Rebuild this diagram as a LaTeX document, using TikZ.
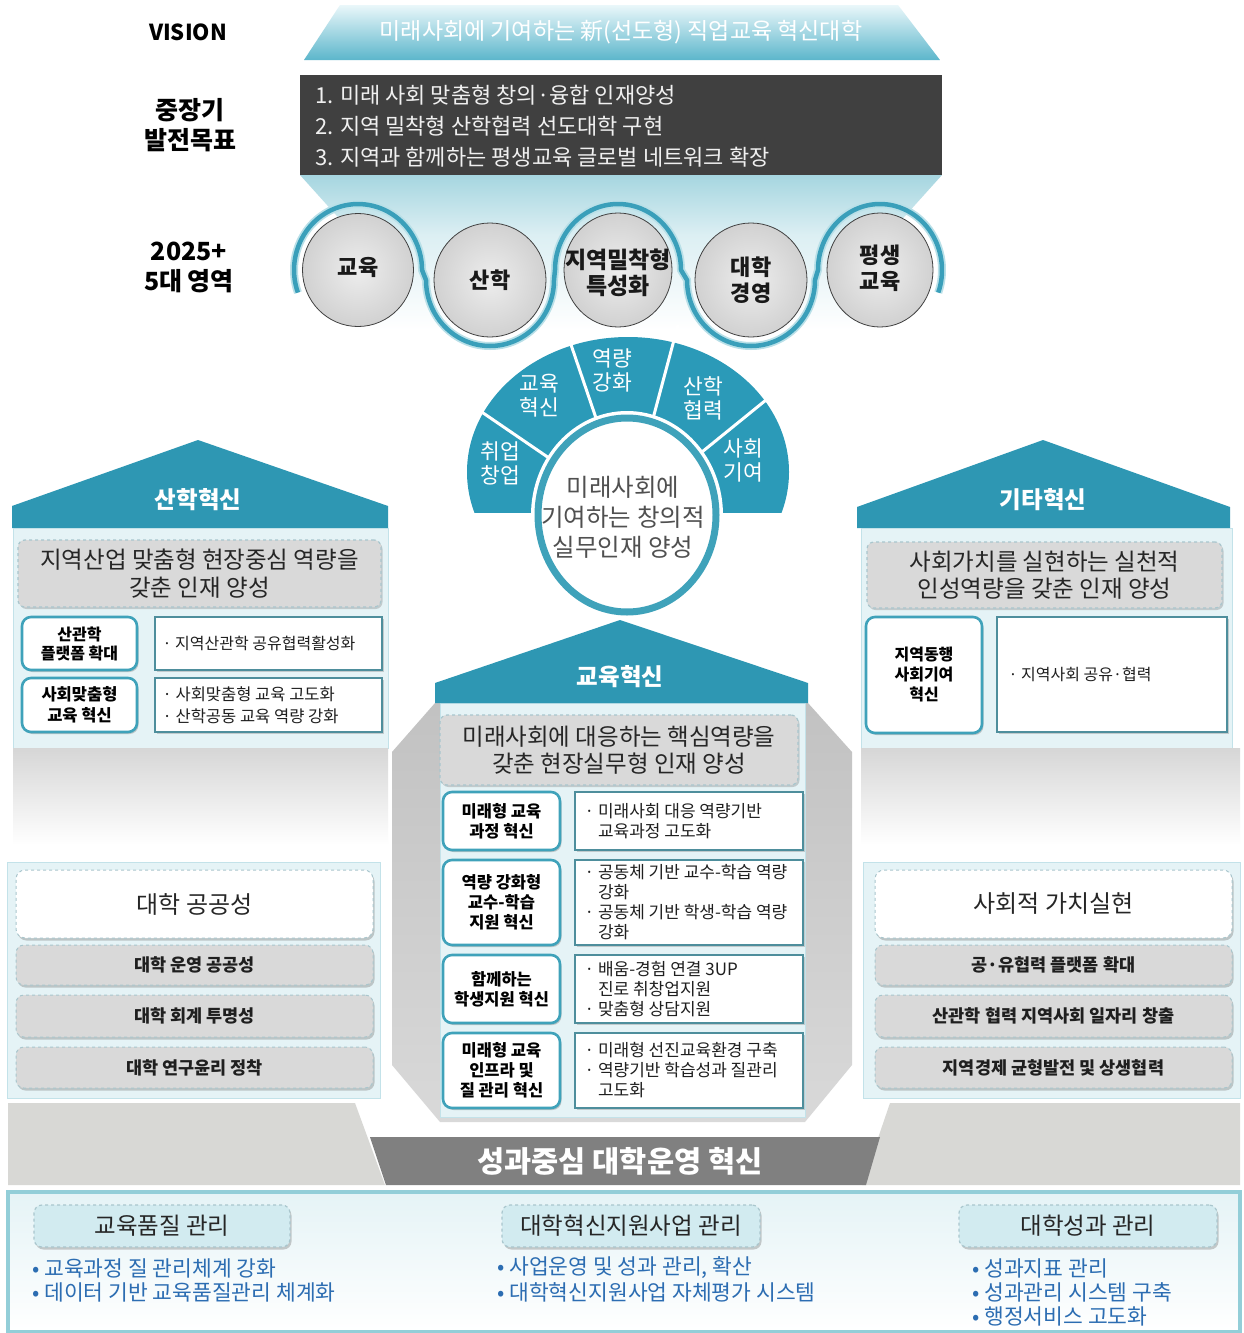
\documentclass[tikz,border=0pt]{standalone}
\usepackage{fontspec}
\setmainfont{Noto Sans CJK KR}
\usetikzlibrary{shapes.geometric,shadows}
\definecolor{tealA}{HTML}{2E97B3}
\definecolor{tealB}{HTML}{3FA2BA}
\definecolor{panelC}{HTML}{E5F3F6}
\definecolor{panelEdge}{HTML}{C3E2E9}
\definecolor{dashG}{HTML}{D9D9D9}
\definecolor{dashEdge}{HTML}{A9C6CD}
\definecolor{darkbox}{HTML}{404040}
\definecolor{bannerC}{HTML}{808080}
\definecolor{bandG}{HTML}{D8D8D5}
\definecolor{bulletB}{HTML}{2C6DB2}
\definecolor{headC}{HTML}{D2EBF0}
\definecolor{frameC}{HTML}{93CED8}
\definecolor{descEdge}{HTML}{4E8E9C}
\definecolor{txtG}{HTML}{505050}
\definecolor{funTop}{HTML}{A6D6E0}
\definecolor{funBot}{HTML}{DCEFF3}
\definecolor{visTop}{HTML}{EAF7FA}
\definecolor{visBot}{HTML}{5CB6CB}
\definecolor{waveC}{HTML}{3A9FBA}
\definecolor{waveHalo}{HTML}{B9E0E8}
\definecolor{fanC}{HTML}{2B9AB8}
\newcommand\fsz[2]{\fontsize{#1pt}{#2pt}\selectfont}
\tikzset{
  roof/.style={fill=tealA},
  rooflabel/.style={text=white, font=\fsz{23.5}{27}\bfseries},
  panel/.style={fill=panelC, draw=panelEdge, line width=0.8},
  goalbox/.style={fill=dashG, draw=dashEdge, dashed, line width=1.2, rounded corners=7,
    drop shadow={shadow xshift=1.5pt, shadow yshift=-2pt, opacity=0.35}, align=center, text=black!85, inner sep=0,
    font=\fsz{23.5}{27.5}},
  keybox/.style={fill=white, draw=tealB, line width=2.6, rounded corners=9, align=center,
    font=\fsz{16}{19}\bfseries, inner sep=0, drop shadow={shadow xshift=1.5pt, shadow yshift=-2pt, opacity=0.4}},
  descbox/.style={fill=white, draw=descEdge, line width=1.1, inner sep=0,
    drop shadow={shadow xshift=1.5pt, shadow yshift=-2pt, opacity=0.35}},
  desctext/.style={align=left, anchor=west, font=\fsz{16}{20}, text=black!88, inner sep=0},
  ellcirc/.style={ellipse, draw=black!75, line width=0.8, inner color=gray!14, outer color=gray!36, inner sep=0},
  circlabel/.style={align=center, font=\fsz{22}{26}\bfseries, text=black!90},
  fanlabel/.style={align=center, font=\fsz{21.5}{24}, text=white},
  sidelabel/.style={align=center, font=\fsz{25}{30}\bfseries},
  whitebox/.style={fill=white, draw=dashEdge, dashed, line width=1, rounded corners=9, inner sep=0,
    drop shadow={shadow xshift=1.5pt, shadow yshift=-2.5pt, opacity=0.4}, font=\fsz{24}{28}, text=black!85},
  graybox/.style={fill=dashG, draw=dashEdge, dashed, line width=1, rounded corners=8, inner sep=0,
    drop shadow={shadow xshift=1.5pt, shadow yshift=-2.5pt, opacity=0.4}, font=\fsz{17.5}{20}\bfseries, text=black!88},
  headbox/.style={fill=headC, draw=dashEdge, dashed, line width=1.2, rounded corners=8, inner sep=0,
    drop shadow={shadow xshift=1.5pt, shadow yshift=-2.5pt, opacity=0.4}, font=\fsz{23.5}{26}, text=black!85},
  bullet/.style={anchor=west, inner sep=0, font=\fsz{21.5}{24}, text=bulletB},
  goalline/.style={anchor=west, inner sep=0, font=\fsz{22}{24}, text=gray!12},
}
\begin{document}
\begin{tikzpicture}[x=1pt,y=-1pt]
\useasboundingbox (0,0) rectangle (1243,1333);
\fill[white] (0,0) rectangle (1243,1333);

% ---------- top ----------
\shade[top color=funTop, bottom color=funBot] (300,175) -- (942,175) -- (888,235) -- (354,235) -- cycle;
\shade[top color=funBot, bottom color=white] (354,235) -- (888,235) -- (888,330) -- (354,330) -- cycle;
\shade[top color=visTop, bottom color=visBot] (340,5) -- (898,5) -- (940,60) -- (304,60) -- cycle;
\node[font=\fsz{23}{26}, text=white] (vtext) at (621,32) {미래사회에 기여하는 新(선도형) 직업교육 혁신대학};
\node[fill=darkbox, minimum width=642, minimum height=100, inner sep=0] (goals) at (621,125) {};
\node[goalline] (goal1) at (315,95) {1. 미래 사회 맞춤형 창의·융합 인재양성};
\node[goalline] (goal2) at (315,126) {2. 지역 밀착형 산학협력 선도대학 구현};
\node[goalline] (goal3) at (315,157) {3. 지역과 함께하는 평생교육 글로벌 네트워크 확장};

\node[font=\fsz{22}{26}\bfseries] (vis) at (188,32) {VISION};
\node[sidelabel] (midgoal) at (190,125) {중장기\\발전목표};
\node[sidelabel] (areas) at (189,267) {2025+\\5대 영역};

% ---------- five circles ----------
\node[ellcirc, minimum width=111, minimum height=113] (e1) at (358,270) {};
\node[ellcirc, minimum width=112, minimum height=114] (e2) at (490,280) {};
\node[ellcirc, minimum width=108, minimum height=114] (e3) at (618,270) {};
\node[ellcirc, minimum width=112, minimum height=114] (e4) at (751,280) {};
\node[ellcirc, minimum width=106, minimum height=114] (e5) at (880,270) {};
\node[circlabel] (l1) at (358,267) {교육};
\node[circlabel] (l2) at (490,280) {산학};
\node[circlabel, font=\fsz{23}{26}\bfseries] (l3) at (618,273) {지역밀착형\\특성화};
\node[circlabel] (l4) at (751,280) {대학\\경영};
\node[circlabel] (l5) at (880,268) {평생\\교육};
\foreach \w/\c in {8/waveHalo, 4.5/waveC}{
\draw[line width=\w, color=\c]
  (297.9,292.6) arc[start angle=-200, end angle=0, x radius=64, y radius=66]
  -- (426,280) arc[start angle=-180, end angle=-360, x radius=64, y radius=66]
  -- (555,270) arc[start angle=-180, end angle=0, x radius=63, y radius=66]
  -- (687,280) arc[start angle=-180, end angle=-360, x radius=64, y radius=66]
  -- (818,270) arc[start angle=-180, end angle=20, x radius=62, y radius=66];
}

% ---------- fan ----------
\coordinate (F) at (628,512);
\begin{scope}
\clip (420,300) rectangle (840,512);
\fill[fanC] (628,472) ellipse [x radius=161, y radius=135];
\end{scope}
\coordinate (sep1) at (470,404);
\coordinate (sep2) at (566,330);
\coordinate (sep3) at (678,325);
\coordinate (sep4) at (766,400);
\foreach \p in {sep1,sep2,sep3,sep4}{
  \draw[white, line width=3] (F) -- (\p);
}
\node[ellipse, draw=white, line width=12, minimum width=180, minimum height=196, inner sep=0] (corehalo) at (627,515) {};
\node[ellipse, draw=tealB, line width=7, fill=white, minimum width=178, minimum height=194, inner sep=0] (core) at (627,515) {};
\node[align=center, font=\fsz{24.5}{30}, text=txtG] (coretext) at (623,517) {미래사회에\\기여하는 창의적\\실무인재 양성};
\node[fanlabel] (s1) at (500,463) {취업\\창업};
\node[fanlabel] (s2) at (539,396) {교육\\혁신};
\node[fanlabel] (s3) at (612,370) {역량\\강화};
\node[fanlabel] (s4) at (703,398) {산학\\협력};
\node[fanlabel] (s5) at (743,460) {사회\\기여};

% ---------- left house ----------
\fill[roof] (12,528) -- (12,506) -- (198,440) -- (388,506) -- (388,528) -- cycle;
\node[rooflabel] (lhead) at (198,500) {산학혁신};
\draw[panel] (13,528) rectangle (388,748);
\shade[top color=gray!32, bottom color=white] (13,748) rectangle (388,845);
\node[goalbox, minimum width=363, minimum height=67] (lgoal) at (199.5,573.5) {지역산업 맞춤형 현장중심 역량을\\갖춘 인재 양성};
\node[keybox, minimum width=115, minimum height=53] (lk1) at (79.5,643.5) {산관학\\플랫폼 확대};
\node[keybox, minimum width=115, minimum height=54, font=\fsz{16.5}{21}\bfseries] (lk2) at (79.5,705) {사회맞춤형\\교육 혁신};
\node[descbox, minimum width=227, minimum height=53] (ld1) at (268.5,643.5) {};
\node[descbox, minimum width=227, minimum height=54] (ld2) at (268.5,705) {};
\node[desctext] (ldt1) at ([xshift=8pt]ld1.west) {· 지역산관학 공유협력활성화};
\node[desctext, font=\fsz{16.5}{22}] (ldt2) at ([xshift=8pt]ld2.west) {· 사회맞춤형 교육 고도화\\· 산학공동 교육 역량 강화};

% ---------- right house ----------
\fill[roof] (857,528) -- (857,507) -- (1043,440) -- (1230,507) -- (1230,528) -- cycle;
\node[rooflabel] (rhead) at (1043,500) {기타혁신};
\draw[panel] (861,528) rectangle (1232,748);
\shade[top color=gray!32, bottom color=white] (861,748) rectangle (1240,845);
\node[goalbox, minimum width=355, minimum height=66] (rgoal) at (1044.5,575) {사회가치를 실현하는 실천적\\인성역량을 갖춘 인재 양성};
\node[keybox, minimum width=116, minimum height=116, font=\fsz{16}{20}\bfseries] (rk1) at (924,675) {지역동행\\사회기여\\혁신};
\node[descbox, minimum width=230, minimum height=115] (rd1) at (1112,674.5) {};
\node[desctext] (rdt1) at ([xshift=12pt]rd1.west) {· 지역사회 공유·협력};

% ---------- center house ----------
\shade[top color=gray!48, bottom color=gray!30] (435,703) -- (808,703) -- (852,752) -- (852,1065) -- (805,1122) -- (440,1122) -- (392,1065) -- (392,752) -- cycle;
\draw[panel] (440,703) rectangle (805,1117);
\fill[roof] (435,703) -- (435,683) -- (620,620) -- (808,683) -- (808,703) -- cycle;
\node[rooflabel] (chead) at (620,677) {교육혁신};
\node[goalbox, minimum width=358, minimum height=70] (cgoal) at (619,750) {미래사회에 대응하는 핵심역량을\\갖춘 현장실무형 인재 양성};
\tikzset{ckey/.style={keybox, minimum width=117, font=\fsz{16.5}{20}\bfseries}}
\node[ckey, minimum height=58] (ck1) at (501.5,821) {미래형 교육\\과정 혁신};
\node[ckey, minimum height=85] (ck2) at (501.5,902.5) {역량 강화형\\교수-학습\\지원 혁신};
\node[ckey, minimum height=68] (ck3) at (501.5,989) {함께하는\\학생지원 혁신};
\node[ckey, minimum height=75] (ck4) at (501.5,1070.5) {미래형 교육\\인프라 및\\질 관리 혁신};
\node[descbox, minimum width=228, minimum height=58] (cd1) at (689,821) {};
\node[descbox, minimum width=228, minimum height=85] (cd2) at (689,902.5) {};
\node[descbox, minimum width=228, minimum height=68] (cd3) at (689,989) {};
\node[descbox, minimum width=228, minimum height=75] (cd4) at (689,1070.5) {};
\tikzset{cdesc/.style={desctext, font=\fsz{17}{20}}}
\node[cdesc] (cdt1) at ([xshift=10pt]cd1.west) {· 미래사회 대응 역량기반\\\phantom{· }교육과정 고도화};
\node[cdesc] (cdt2) at ([xshift=10pt]cd2.west) {· 공동체 기반 교수-학습 역량\\\phantom{· }강화\\· 공동체 기반 학생-학습 역량\\\phantom{· }강화};
\node[cdesc] (cdt3) at ([xshift=10pt]cd3.west) {· 배움-경험 연결 3UP\\\phantom{· }진로 취창업지원\\· 맞춤형 상담지원};
\node[cdesc] (cdt4) at ([xshift=10pt]cd4.west) {· 미래형 선진교육환경 구축\\· 역량기반 학습성과 질관리\\\phantom{· }고도화};

% ---------- lower left / right ----------
\draw[panel] (7,862) rectangle (380,1098);
\node[whitebox, minimum width=357, minimum height=68] (lw) at (194.5,904) {대학 공공성};
\node[graybox, minimum width=357, minimum height=40] (lg1) at (194.5,965) {대학 운영 공공성};
\node[graybox, minimum width=357, minimum height=42] (lg2) at (194.5,1016) {대학 회계 투명성};
\node[graybox, minimum width=357, minimum height=41] (lg3) at (194.5,1067.5) {대학 연구윤리 정착};
\draw[panel] (863,862) rectangle (1240,1098);
\node[whitebox, minimum width=357, minimum height=68] (rw) at (1053.5,904) {사회적 가치실현};
\node[graybox, minimum width=357, minimum height=40] (rg1) at (1053.5,965) {공·유협력 플랫폼 확대};
\node[graybox, minimum width=357, minimum height=42] (rg2) at (1053.5,1016) {산관학 협력 지역사회 일자리 창출};
\node[graybox, minimum width=357, minimum height=41] (rg3) at (1053.5,1067.5) {지역경제 균형발전 및 상생협력};

% ---------- bottom band ----------
\fill[bandG] (8,1103) -- (355,1103) -- (385,1185) -- (8,1185) -- cycle;
\fill[bandG] (890,1103) -- (1240,1103) -- (1240,1185) -- (862,1185) -- cycle;
\fill[bannerC] (370,1137) -- (880,1137) -- (866,1185) -- (386,1185) -- cycle;
\node[font=\fsz{29.5}{32}\bfseries, text=white] (perf) at (620,1161) {성과중심 대학운영 혁신};

\shade[top color=panelC, bottom color=white] (8,1192) rectangle (1240,1332);
\draw[frameC, line width=3.5] (8,1192) rectangle (1240,1332);
\node[headbox, minimum width=256, minimum height=42] (h1) at (162,1226) {교육품질 관리};
\node[headbox, minimum width=258, minimum height=42] (h2) at (631,1226) {대학혁신지원사업 관리};
\node[headbox, minimum width=258, minimum height=42] (h3) at (1088,1226) {대학성과 관리};
\node[bullet] (b1a) at (32,1268) {• 교육과정 질 관리체계 강화};
\node[bullet] (b1b) at (32,1292) {• 데이터 기반 교육품질관리 체계화};
\node[bullet] (b2a) at (497,1268) {• 사업운영 및 성과 관리, 확산};
\node[bullet] (b2b) at (497,1292) {• 대학혁신지원사업 자체평가 시스템};
\node[bullet] (b3a) at (972,1268) {• 성과지표 관리};
\node[bullet] (b3b) at (972,1292) {• 성과관리 시스템 구축};
\node[bullet] (b3c) at (972,1316) {• 행정서비스 고도화};
\end{tikzpicture}
\end{document}
